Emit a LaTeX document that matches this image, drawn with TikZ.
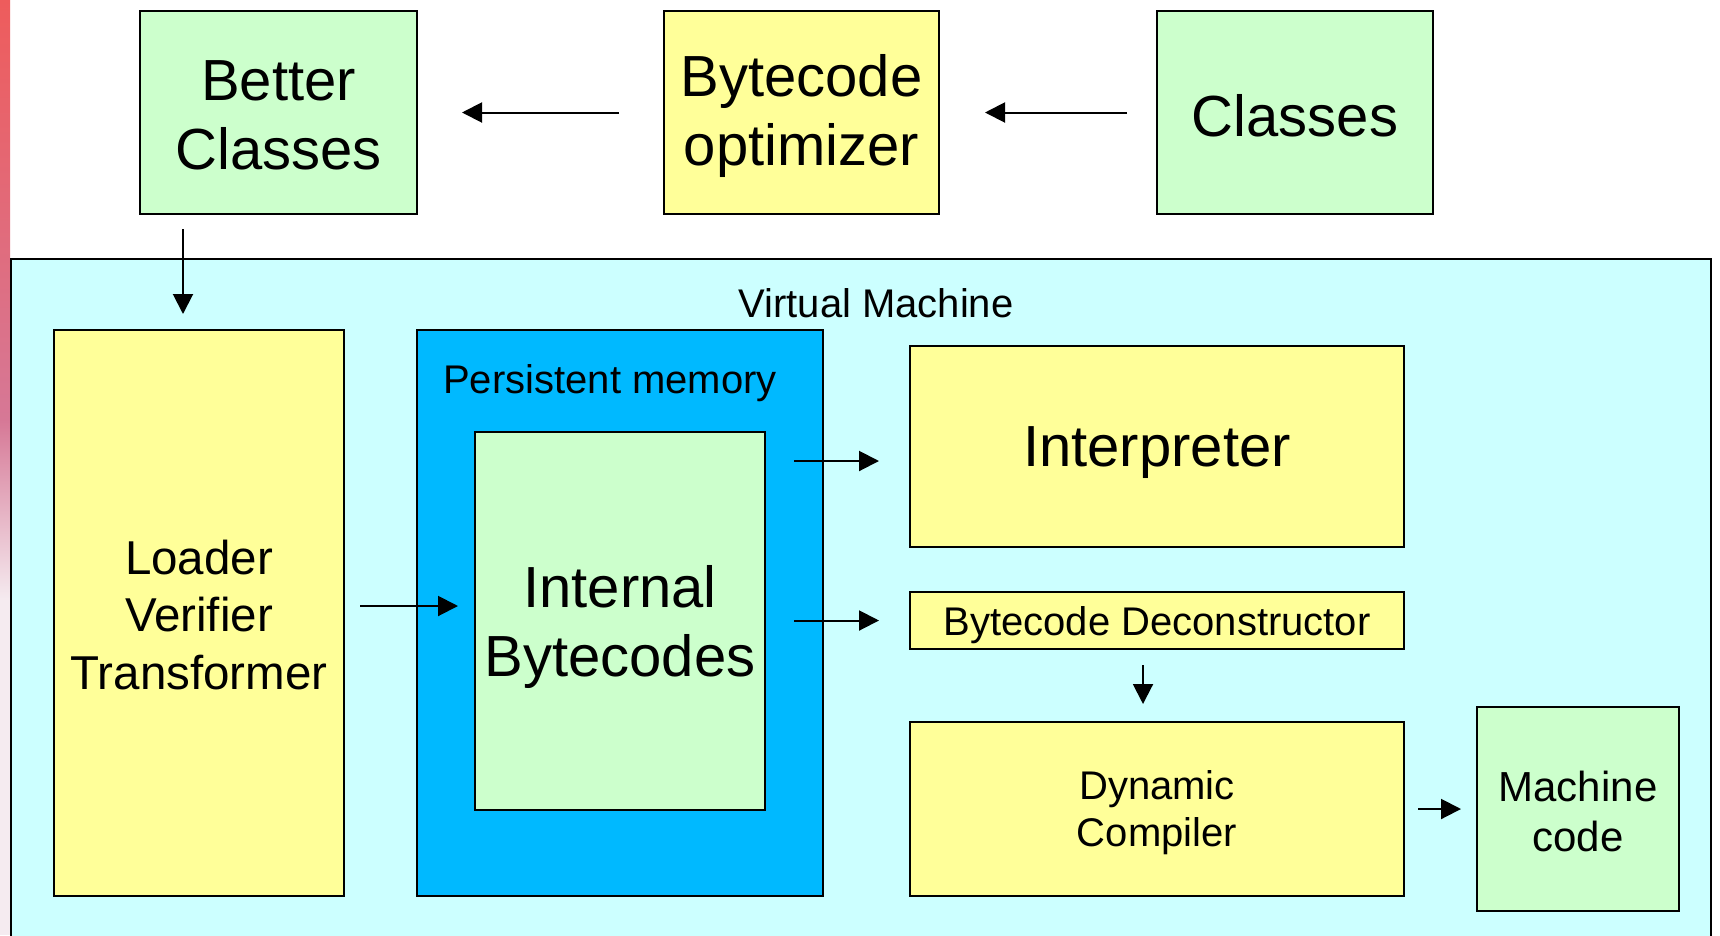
\documentclass[tikz,border=0pt]{standalone}
\usepackage{fontspec}
\setmainfont{Liberation Sans}
\usetikzlibrary{arrows.meta}
\definecolor{boxgreen}{RGB}{204,255,204}
\definecolor{boxyellow}{RGB}{255,255,153}
\definecolor{vmcyan}{RGB}{204,255,255}
\definecolor{memblue}{RGB}{0,185,255}
\definecolor{stripred}{RGB}{238,92,92}
\definecolor{stripmauve}{RGB}{214,120,150}
\definecolor{strippink}{RGB}{245,235,240}
\tikzset{
  blk/.style={draw=black, line width=2pt, inner sep=0pt},
  greenbox/.style={blk, fill=boxgreen},
  yellowbox/.style={blk, fill=boxyellow},
  txt/.style={align=center, text=black, inner sep=0pt},
  huge/.style={txt, font=\fontsize{58pt}{69pt}\selectfont},
  large/.style={txt, font=\fontsize{47.5pt}{57.5pt}\selectfont},
  medium/.style={txt, font=\fontsize{42pt}{50pt}\selectfont},
  small/.style={txt, font=\fontsize{40pt}{47pt}\selectfont},
  arr/.style={line width=2pt, -{Triangle[length=20pt,width=20pt]}},
}
\begin{document}
\begin{tikzpicture}[x=1pt,y=-1pt]
\useasboundingbox (0,0) rectangle (1720,935);
\clip (0,0) rectangle (1720,935);
\fill[white] (0,0) rectangle (1720,935);

% coloured strip along the left edge
\shade[top color=stripred, bottom color=stripmauve] (0,0) rectangle (10,420);
\shade[top color=stripmauve, bottom color=strippink] (0,420) rectangle (10,600);
\fill[strippink] (0,600) rectangle (10,935);

% top row
\node[greenbox, minimum width=277pt, minimum height=203pt] (better) at (278.5,112.5) {};
\node[huge, yshift=-3pt] (bettertext) at (better) {Better\\Classes};
\node[yellowbox, minimum width=275pt, minimum height=203pt] (opt) at (801.5,112.5) {};
\node[huge, yshift=-3pt] (opttext) at (opt) {Bytecode\\optimizer};
\node[greenbox, minimum width=276pt, minimum height=203pt] (classes) at (1295,112.5) {};
\node[huge, yshift=-3pt] (classestext) at (classes) {Classes};

% virtual machine frame
\node[blk, fill=vmcyan, minimum width=1700pt, minimum height=700pt, anchor=north west] (vm) at (10,258) {};
\node[small] (vmlabel) at (876,303) {Virtual Machine};

\node[yellowbox, minimum width=290pt, minimum height=566pt] (loader) at (199,613) {};
\node[large, yshift=-2pt] (loadertext) at (loader) {Loader\\Verifier\\Transformer};

\node[blk, fill=memblue, minimum width=406pt, minimum height=566pt] (pm) at (620,613) {};
\node[small] (pmlabel) at (610,383) {Persistent memory};
\node[greenbox, minimum width=290pt, minimum height=378pt] (internal) at (620,621) {};
\node[huge, yshift=-6pt] (internaltext) at (internal) {Internal\\Bytecodes};

\node[yellowbox, minimum width=494pt, minimum height=201pt] (interp) at (1157,446.5) {};
\node[huge, yshift=-6pt] (interptext) at (interp) {Interpreter};
\node[yellowbox, minimum width=494pt, minimum height=57pt] (decon) at (1157,620.5) {};
\node[small, yshift=-5pt] (decontext) at (decon) {Bytecode Deconstructor};
\node[yellowbox, minimum width=494pt, minimum height=174pt] (dyn) at (1157,809) {};
\node[small, yshift=-4pt] (dyntext) at (dyn) {Dynamic\\Compiler};
\node[greenbox, minimum width=202pt, minimum height=204pt] (machine) at (1578,809) {};
\node[medium, yshift=-2pt] (machinetext) at (machine) {Machine\\code};

% connectors
\draw[arr, shorten <=44pt, shorten >=44pt] (opt.west) -- (better.east);
\draw[arr, shorten <=29pt, shorten >=45pt] (classes.west) -- (opt.east);
\draw[arr, shorten <=14pt, shorten >=15pt] ([xshift=44pt]better.south west) -- ([xshift=44pt]better.south west |- loader.north);
\draw[arr, shorten <=15pt, shorten >=16pt] ([yshift=7pt]loader.east) -- ([yshift=7pt]loader.east -| internal.west);
\draw[arr, shorten <=28pt, shorten >=30pt] ([yshift=-14.5pt]interp.west -| internal.east) -- ([yshift=-14.5pt]interp.west);
\draw[arr, shorten <=28pt, shorten >=30pt] (decon.west -| internal.east) -- (decon.west);
\draw[arr, shorten <=15pt, shorten >=17pt] ([xshift=-14pt]decon.south) -- ([xshift=-14pt]decon.south |- dyn.north);
\draw[arr, shorten <=13pt, shorten >=15pt] (dyn.east) -- (machine.west);
\end{tikzpicture}
\end{document}
